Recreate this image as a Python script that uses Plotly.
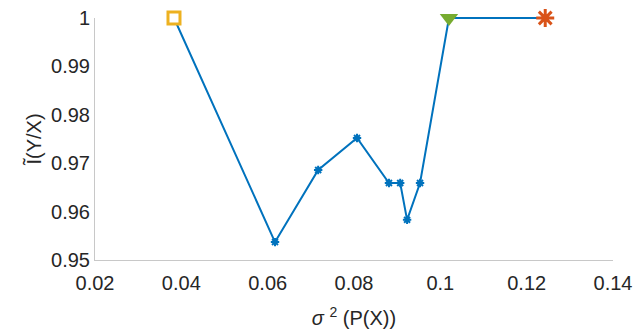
import plotly.graph_objects as go

# data
x_vals = [0.0383, 0.0617, 0.0717, 0.0807, 0.0881, 0.0907, 0.0923, 0.0953, 0.1020, 0.1243]
y_vals = [1.0, 0.9537, 0.9686, 0.9752, 0.9659, 0.9659, 0.9583, 0.9659, 1.0, 1.0]
x_ticks = [0.02, 0.04, 0.06, 0.08, 0.10, 0.12, 0.14]
x_tick_labels = ["0.02", "0.04", "0.06", "0.08", "0.1", "0.12", "0.14"]
y_ticks = [0.95, 0.96, 0.97, 0.98, 0.99, 1.0]
y_tick_labels = ["0.95", "0.96", "0.97", "0.98", "0.99", "1"]

FONT = "Liberation Sans, Arial, sans-serif"

# layout geometry: visible axis spans 242 px; data layer gets 4 px of headroom
W, H = 635, 329
ML, MR, MT, MB = 95, 22, 14, 69
plot_h = H - MT - MB
axis_h = plot_h - 4
y_lo, y_hi = 0.95, 1.0
y2_hi = y_lo + (y_hi - y_lo) * plot_h / axis_h

fig = go.Figure()
# empty trace so the visible x/y axis pair is drawn
fig.add_trace(go.Scatter(x=[], y=[], mode="lines", showlegend=False, hoverinfo="skip"))
fig.add_trace(go.Scatter(
    x=x_vals, y=y_vals, mode="lines", line=dict(color="#0072BD", width=2),
    yaxis="y2", cliponaxis=False, showlegend=False))
fig.add_trace(go.Scatter(
    x=x_vals[1:-2], y=y_vals[1:-2], mode="markers",
    marker=dict(symbol="asterisk-open", size=7, color="#0072BD", line=dict(color="#0072BD", width=2)),
    yaxis="y2", cliponaxis=False, showlegend=False))
fig.add_trace(go.Scatter(
    x=[x_vals[0]], y=[y_vals[0]], mode="markers",
    marker=dict(symbol="square", size=12, color="white", line=dict(color="#EDB120", width=3)),
    yaxis="y2", cliponaxis=False, showlegend=False))
fig.add_trace(go.Scatter(
    x=[x_vals[-2]], y=[y_vals[-2]], mode="markers",
    marker=dict(symbol="triangle-down", size=16, color="#77AC30", line=dict(width=0)),
    yaxis="y2", cliponaxis=False, showlegend=False))
fig.add_trace(go.Scatter(
    x=[x_vals[-1]], y=[y_vals[-1]], mode="markers",
    marker=dict(symbol="asterisk-open", size=15, color="#D95319", line=dict(color="#D95319", width=3)),
    yaxis="y2", cliponaxis=False, showlegend=False))

axis_common = dict(
    showgrid=False, zeroline=False, showline=True, linecolor="#c8c8c8", linewidth=1,
    ticks="inside", ticklen=4, tickcolor="#c8c8c8", mirror=False, automargin=False,
    tickfont=dict(family=FONT, size=20, color="#262626"),
)
fig.update_layout(
    width=W, height=H,
    margin=dict(l=ML, r=MR, t=MT, b=MB),
    paper_bgcolor="white", plot_bgcolor="white",
    xaxis=dict(range=[0.02, 0.14], tickvals=x_ticks, ticktext=x_tick_labels,
               ticklabelstandoff=5,
               title=dict(text="<i>σ</i> <sup>2</sup> (P(X))", standoff=18,
                          font=dict(family=FONT, size=20, color="#262626")),
               **axis_common),
    yaxis=dict(range=[y_lo, y_hi], domain=[0, axis_h / plot_h],
               tickvals=y_ticks, ticktext=y_tick_labels,
               title=dict(text="Ĩ(Y/X)", standoff=4,
                          font=dict(family=FONT, size=20, color="#262626")),
               **axis_common),
    yaxis2=dict(range=[y_lo, y2_hi], domain=[0, 1], anchor="x", visible=False,
                showgrid=False, zeroline=False),
)
fig.write_html("out.html")
